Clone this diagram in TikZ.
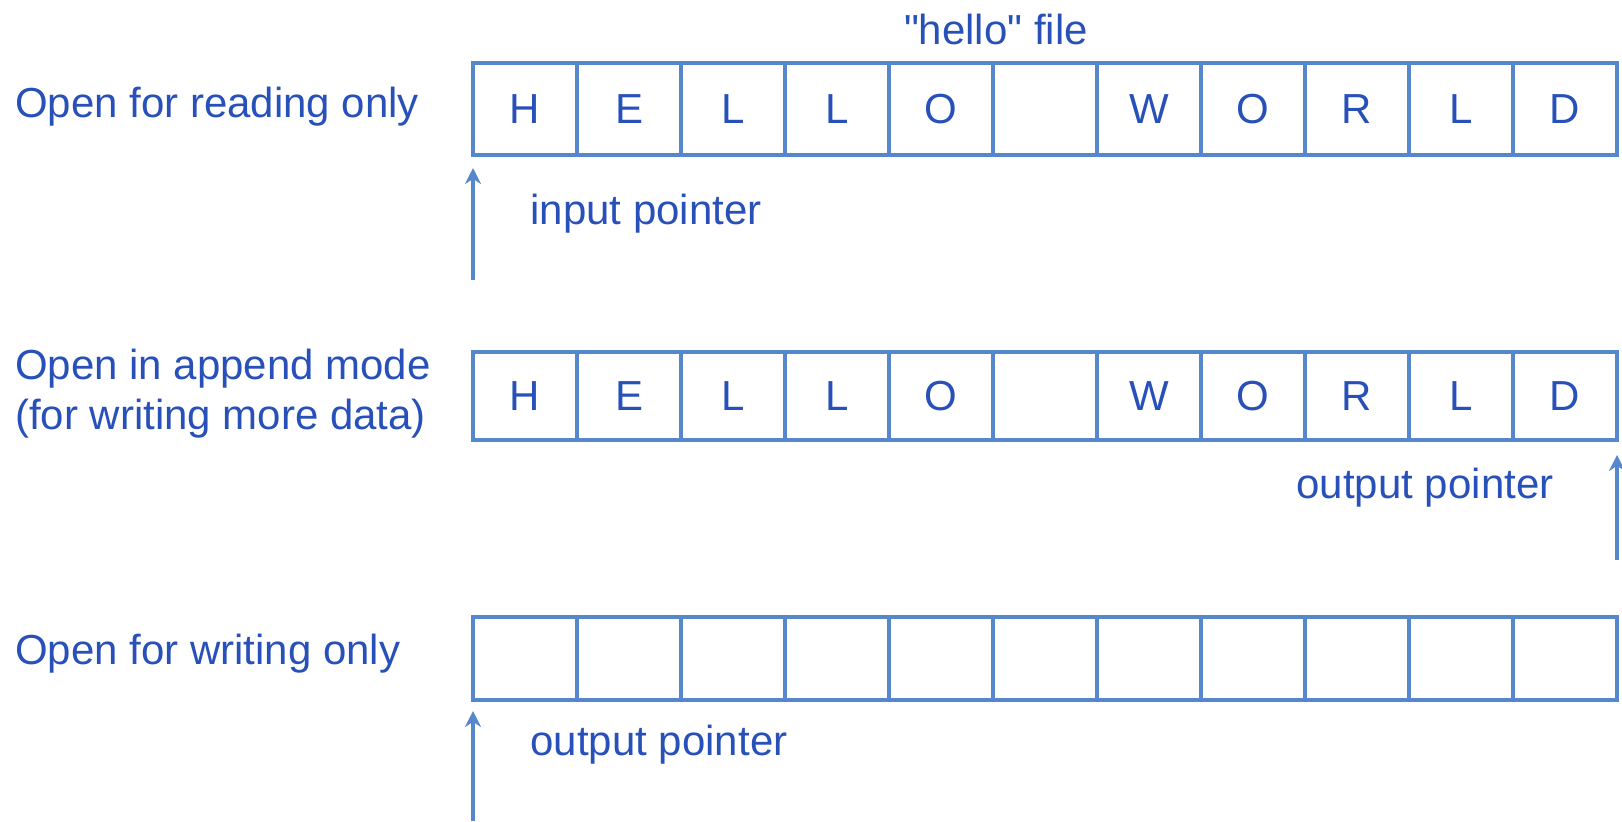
\documentclass[tikz,border=0pt]{standalone}
\usepackage{fontspec}
\setmainfont{Liberation Sans}
\usetikzlibrary{arrows.meta, positioning}
\definecolor{inkblue}{RGB}{40,80,185}
\definecolor{gridblue}{RGB}{85,135,205}

\begin{document}
\begin{tikzpicture}[x=0.5pt, y=-0.5pt, >=Stealth,
  every node/.style={font=\fontsize{21}{25}\selectfont, text=inkblue},
  cell/.style={draw=gridblue, line width=1.6pt, minimum width=52pt, inner sep=0pt, outer sep=0pt, anchor=north west},
  ptr/.style={-{Stealth[length=8pt, width=8pt]}, draw=gridblue, line width=1.6pt}]
  \useasboundingbox (0,0) rectangle (1622,821);

  % the file, opened three ways
  \node (title) at (996,29) {\textquotedbl hello\textquotedbl\ file};
  \foreach \ch [count=\i from 0] in {H,E,L,L,O,{},W,O,R,L,D}
    \node[cell, minimum height=46pt] (a\i) at (473+104*\i, 63) {\ch};
  \foreach \ch [count=\i from 0] in {H,E,L,L,O,{},W,O,R,L,D}
    \node[cell, minimum height=44pt] (b\i) at (473+104*\i, 352) {\ch};
  \foreach \i in {0,...,10}
    \node[cell, minimum height=41.5pt] (c\i) at (473+104*\i, 617) {};

  % modes
  \node[anchor=west] (readmode) at (8,107) {Open for reading only};
  \node[anchor=west, align=left] (appendmode) at (8,394) {Open in append mode\\(for writing more data)};
  \node[anchor=west] (writemode) at (8,654) {Open for writing only};

  % pointers
  \coordinate (intail) at (473,280);
  \coordinate (apptail) at (1617,560);
  \coordinate (outtail) at (473,821);
  \draw[ptr, shorten >=6.5pt] (intail) -- (a0.south west);
  \draw[ptr, shorten >=7.5pt] (apptail) -- (b10.south east);
  \draw[ptr, shorten >=5.5pt] (outtail) -- (c0.south west);
  \node (inptr) at (646,214) {input pointer};
  \node (appptr) at (1425,488) {output pointer};
  \node (outptr) at (659,745) {output pointer};
\end{tikzpicture}
\end{document}
